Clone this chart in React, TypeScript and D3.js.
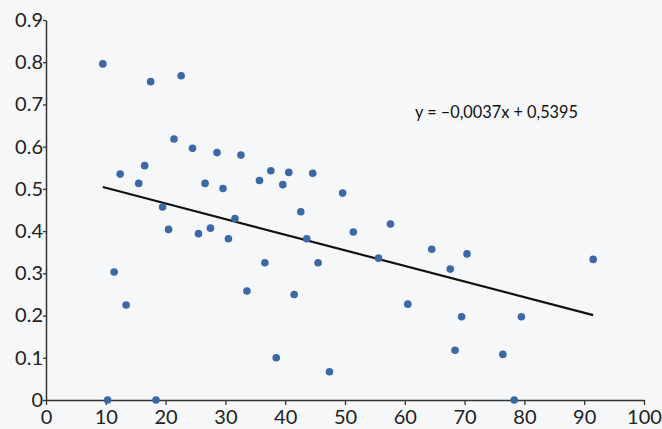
import React, { useRef, useEffect } from 'react';
import * as d3 from 'd3';

// scatter points
const xValues = [9.5, 17.5, 22.6, 21.4, 24.5, 28.6, 32.6, 12.4, 16.5, 15.5, 26.6, 29.6, 35.7, 37.6, 40.6, 39.6, 44.6, 19.5, 42.6, 49.6,
  20.5, 25.5, 27.5, 30.5, 31.6, 11.4, 13.4, 10.3, 18.4, 36.6, 33.6, 43.6, 45.5, 41.5, 38.5, 47.4,
  51.4, 57.6, 64.5, 70.4, 67.6, 91.5, 55.6, 60.5, 69.5, 79.5, 68.4, 76.4, 78.3];
const yValues = [0.796, 0.754, 0.768, 0.618, 0.596, 0.586, 0.58, 0.535, 0.555, 0.513, 0.513, 0.501, 0.52, 0.543, 0.539, 0.51, 0.537, 0.457, 0.446, 0.49,
  0.404, 0.394, 0.407, 0.382, 0.43, 0.303, 0.225, 0, 0, 0.325, 0.258, 0.382, 0.325, 0.25, 0.1, 0.067,
  0.398, 0.417, 0.357, 0.346, 0.31, 0.333, 0.336, 0.227, 0.197, 0.197, 0.118, 0.108, 0];

const xTicks = [0, 10, 20, 30, 40, 50, 60, 70, 80, 90, 100];
const yTicks = [0, 0.1, 0.2, 0.3, 0.4, 0.5, 0.6, 0.7, 0.8, 0.9];

// trend line y = -0.0037x + 0.5395
const slope = -0.0037;
const intercept = 0.5395;
const equationLabel = 'y = –0,0037x + 0,5395';

const width = 662;
const height = 429;

const Chart = () => {
  const ref = useRef(null);

  useEffect(() => {
    const svg = d3.select(ref.current);
    svg.selectAll('*').remove();

    const x = d3.scaleLinear().domain([0, 100]).range([46, 644]);
    const y = d3.scaleLinear().domain([0, 0.9]).range([400, 20]);

    svg.append('rect')
      .attr('width', width)
      .attr('height', height)
      .attr('fill', '#f6f7f9');

    // axes
    const gx = svg.append('g')
      .attr('transform', 'translate(0,' + y(0) + ')')
      .call(d3.axisBottom(x).tickValues(xTicks).tickSize(5).tickSizeOuter(0).tickPadding(5).tickFormat(d3.format('d')));
    const gy = svg.append('g')
      .attr('transform', 'translate(' + x(0) + ',0)')
      .call(d3.axisLeft(y).tickValues(yTicks).tickSize(3).tickSizeOuter(0).tickPadding(0)
        .tickFormat(d => (d === 0 ? '0' : d3.format('.1f')(d))));

    [gx, gy].forEach(g => {
      g.select('.domain').attr('stroke', '#333').attr('stroke-width', 1.5);
      g.selectAll('.tick line').attr('stroke', '#333').attr('stroke-width', 1.3);
      g.selectAll('.tick text')
        .attr('fill', '#222')
        .style('font-family', 'Lato, sans-serif')
        .style('font-size', '20px');
    });

    const points = xValues.map((v, i) => ({ x: v, y: yValues[i] }));

    // regression line over the data range
    const [x0, x1] = d3.extent(xValues);
    const line = d3.line().x(d => x(d[0])).y(d => y(d[1]));
    svg.append('path')
      .attr('d', line([[x0, slope * x0 + intercept], [x1, slope * x1 + intercept]]))
      .attr('stroke', '#111')
      .attr('stroke-width', 2.2)
      .attr('fill', 'none');

    svg.append('g')
      .selectAll('circle')
      .data(points)
      .enter()
      .append('circle')
      .attr('cx', d => x(d.x))
      .attr('cy', d => y(d.y))
      .attr('r', 3.8)
      .attr('fill', '#3d68a6');

    svg.append('text')
      .attr('x', 415)
      .attr('y', 118)
      .attr('fill', '#111')
      .style('font-family', 'Lato, sans-serif')
      .style('font-size', '16.3px')
      .text(equationLabel);
  }, []);

  return (
    <svg ref={ref} width={width} height={height}
      style={{ position: 'absolute', left: 0, top: 0 }} />
  );
};

const App = () => {
  return <Chart />;
};

export default App;
